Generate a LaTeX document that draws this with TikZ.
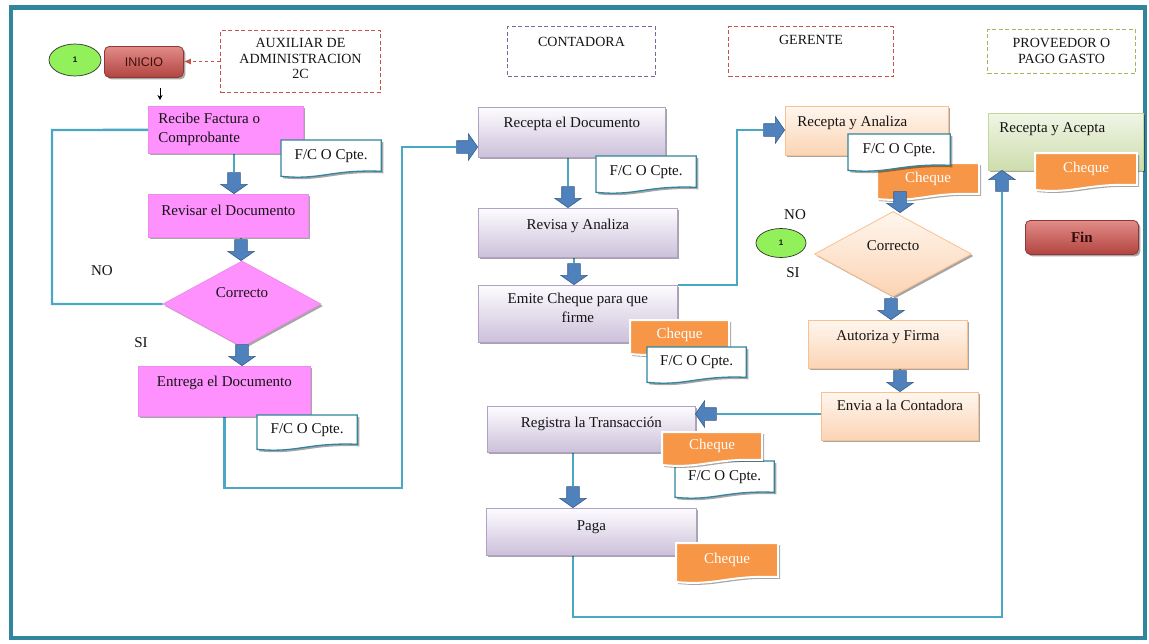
\documentclass[tikz,border=0pt]{standalone}
\usepackage{fontspec}
\setmainfont{Liberation Serif}
\newfontfamily\arialf{Liberation Sans}
\usetikzlibrary{shapes.geometric,shapes.arrows,shadows,arrows.meta,calc}

% document shape: rectangle with a wavy bottom edge
\makeatletter
\newdimen\wvL \newdimen\wvR \newdimen\wvB \newdimen\wvT
\pgfdeclareshape{wavedoc}{%
  \inheritsavedanchors[from=rectangle]%
  \inheritanchorborder[from=rectangle]%
  \inheritanchor[from=rectangle]{center}%
  \inheritanchor[from=rectangle]{north}%
  \inheritanchor[from=rectangle]{south}%
  \inheritanchor[from=rectangle]{east}%
  \inheritanchor[from=rectangle]{west}%
  \inheritanchor[from=rectangle]{north east}%
  \inheritanchor[from=rectangle]{north west}%
  \inheritanchor[from=rectangle]{south east}%
  \inheritanchor[from=rectangle]{south west}%
  \inheritanchor[from=rectangle]{text}%
  \inheritanchor[from=rectangle]{base}%
  \inheritanchor[from=rectangle]{mid}%
  \backgroundpath{%
    \southwest \wvL=\pgf@x \wvB=\pgf@y
    \northeast \wvR=\pgf@x \wvT=\pgf@y
    \pgfpathmoveto{\pgfqpoint{\wvL}{\wvT}}%
    \pgfpathlineto{\pgfqpoint{\wvR}{\wvT}}%
    \pgfpathlineto{\pgfqpoint{\wvR}{\wvB}}%
    \pgfpathcurveto{\pgfpoint{0.5*\wvR+0.5*\wvL}{\wvB+2pt}}{\pgfpoint{0.4*\wvR+0.6*\wvL}{\wvB-9pt}}{\pgfpoint{\wvL}{\wvB-5pt}}%
    \pgfpathclose
  }%
}
\makeatother

\pgfdeclarelayer{bg}
\pgfsetlayers{bg,main}

\definecolor{frameC}{RGB}{49,133,156}
\definecolor{lineC}{RGB}{75,168,196}
\definecolor{blkF}{RGB}{79,129,189}
\definecolor{blkD}{RGB}{56,93,138}
\definecolor{pinkF}{RGB}{255,145,255}
\definecolor{pinkD}{RGB}{235,140,235}
\definecolor{lavT}{RGB}{253,252,255}
\definecolor{lavB}{RGB}{204,192,218}
\definecolor{lavD}{RGB}{178,161,199}
\definecolor{peaT}{RGB}{255,246,238}
\definecolor{peaB}{RGB}{251,212,180}
\definecolor{peaD}{RGB}{250,192,144}
\definecolor{grnT}{RGB}{240,245,230}
\definecolor{grnB}{RGB}{205,221,172}
\definecolor{grnD}{RGB}{195,214,155}
\definecolor{orgF}{RGB}{247,150,70}
\definecolor{docD}{RGB}{49,133,156}
\definecolor{redT}{RGB}{226,140,136}
\definecolor{redB}{RGB}{178,68,64}
\definecolor{redD}{RGB}{140,56,54}
\definecolor{limeF}{RGB}{146,240,90}
\definecolor{hdRed}{RGB}{200,80,77}
\definecolor{hdPur}{RGB}{128,100,162}
\definecolor{hdGrn}{RGB}{155,187,89}
\definecolor{txtC}{RGB}{20,20,20}

% text block of given width/height, top padding, content
\newcommand\tb[4]{\parbox[c][#2pt][t]{#1pt}{\vspace*{#3pt}#4}}

\tikzset{
  every node/.style={font=\fontsize{15}{19}\selectfont, text=txtC},
  boxshadow/.style={drop shadow={shadow xshift=2pt,shadow yshift=-2pt,opacity=.35,fill=black}},
  box/.style={rectangle, inner sep=0pt, anchor=north west, line width=.8pt, boxshadow},
  pinkbox/.style={box, fill=pinkF, draw=pinkD},
  lavbox/.style={box, top color=lavT, bottom color=lavB, draw=lavD},
  peabox/.style={box, top color=peaT, bottom color=peaB, draw=peaD},
  grnbox/.style={box, top color=grnT, bottom color=grnB, draw=grnD},
  hdr/.style={rectangle, dashed, dash pattern=on 4pt off 2.5pt, line width=1pt, anchor=north west, inner sep=0pt, font=\fontsize{14}{15.5}\selectfont},
  docnode/.style={wavedoc, anchor=north west, fill=white, draw=docD, line width=1.3pt, inner sep=0pt, boxshadow, font=\fontsize{15}{17}\selectfont},
  chq/.style={wavedoc, anchor=north west, fill=orgF, draw=white, line width=2pt, inner sep=0pt, text=white, boxshadow, font=\fontsize{15}{17}\selectfont},
  conn/.style={draw=lineC, line width=2.4pt},
  blk/.style={single arrow, fill=blkF, draw=blkD, line width=.6pt, inner sep=6pt, minimum height=21pt, minimum width=26pt, single arrow head extend=7pt, single arrow tip angle=110, anchor=tip},
  blkdown/.style={blk, shape border rotate=270},
  blkup/.style={blk, shape border rotate=90},
  blkright/.style={blk, shape border rotate=0},
  blkleft/.style={blk, shape border rotate=180},
  decision/.style={diamond, inner sep=0pt, line width=.8pt, boxshadow},
  startoval/.style={ellipse, draw=black!80, fill=limeF, inner sep=0pt, line width=.7pt, font=\arialf\bfseries\fontsize{8}{9}\selectfont},
  terminal/.style={rectangle, rounded corners=5pt, anchor=north west, inner sep=0pt, top color=redT, bottom color=redB, draw=redD, line width=.8pt, boxshadow},
  lbl/.style={font=\fontsize{15}{17}\selectfont}
}

\begin{document}
\begin{tikzpicture}[x=1pt,y=-1pt]
\useasboundingbox (0,0) rectangle (1149,643);

% lane headers
\node[hdr, draw=hdRed] (auxh) at (220,30) {\tb{160}{62}{8}{\centering AUXILIAR DE\\ADMINISTRACION\\2C}};
\node[hdr, draw=hdPur] (conth) at (507,26) {\tb{148}{50}{11}{\centering CONTADORA}};
\node[hdr, draw=hdRed] (gerh) at (728,26) {\tb{165}{50}{9}{\centering GERENTE}};
\node[hdr, draw=hdGrn] (provh) at (987,29) {\tb{148}{44}{9}{\centering PROVEEDOR O\\PAGO GASTO}};

% start
\node[startoval, minimum width=52pt, minimum height=32pt] (one1) at (75,60) {1};
\node[terminal, minimum width=79pt, minimum height=31pt, font=\arialf\fontsize{12.5}{14}\selectfont, text={rgb,255:red,60;green,15;blue,15}] (inicio) at (104,46) {INICIO};

% auxiliar lane
\node[pinkbox] (recibe) at (148,106) {\tb{155}{47}{7}{\raggedright\hspace*{10pt}Recibe Factura o\\\hspace*{10pt}Comprobante}};
\node[docnode, minimum width=99pt, minimum height=30pt] (doc1) at (281,140) {F/C O Cpte.};
\node[pinkbox] (revisar) at (148,194) {\tb{160}{43}{11}{\centering Revisar el Documento}};
\node[decision, fill=pinkF, draw=pinkD, minimum width=158pt, minimum height=86pt] (c1) at (242,304) {\raisebox{7pt}[0pt][0pt]{Correcto}};
\node[lbl] (no1) at (102,271) {NO};
\node[lbl] (si1) at (141,343) {SI};
\node[pinkbox] (entrega) at (138,366) {\tb{172}{50}{10}{\centering Entrega el Documento}};
\node[docnode, minimum width=99pt, minimum height=28pt] (doc2) at (257,415) {F/C O Cpte.};

% contadora lane
\node[lavbox] (recepta) at (478,107) {\tb{187}{50}{10}{\centering Recepta el Documento}};
\node[docnode, minimum width=99pt, minimum height=30pt] (doc3) at (596,156) {F/C O Cpte.};
\node[lavbox] (revisa) at (478,208) {\tb{199}{49}{11}{\centering Revisa y Analiza}};
\node[lavbox] (emite) at (478,285) {\tb{199}{57}{8}{\centering Emite Cheque para que\\firme}};
\node[chq, minimum width=97pt, minimum height=27pt] (chq1) at (630,320) {Cheque};
\node[docnode, minimum width=98pt, minimum height=29pt] (doc4) at (647,347) {F/C O Cpte.};
\node[lavbox] (registra) at (487,406) {\tb{208}{46}{11}{\centering Registra la Transacción}};
\node[docnode, minimum width=98pt, minimum height=30pt] (doc6) at (675,461) {F/C O Cpte.};
\node[chq, minimum width=98pt, minimum height=26pt] (chq3) at (662,432) {Cheque};
\node[lavbox] (paga) at (486,508) {\tb{210}{47}{12}{\centering Paga}};
\node[chq, minimum width=100pt, minimum height=32pt] (chq4) at (676,543) {Cheque};

% gerente lane
\node[peabox] (rya) at (785,106) {\tb{163}{49}{10}{\raggedright\hspace*{12pt}Recepta y Analiza}};
\node[chq, minimum width=100pt, minimum height=29pt] (chq2) at (877,163) {Cheque};
\node[docnode, minimum width=101pt, minimum height=30pt] (doc5) at (848,134) {F/C O Cpte.};
\node[decision, top color=peaT, bottom color=peaB, draw=peaD, minimum width=157pt, minimum height=85pt] (d2) at (893,254) {\raisebox{4pt}[0pt][0pt]{Correcto}};
\node[lbl] (no2) at (795,215) {NO};
\node[startoval, minimum width=50pt, minimum height=29pt] (one2) at (781,243) {1};
\node[lbl] (si2) at (793,273) {SI};
\node[peabox] (autoriza) at (808,320) {\tb{159}{48}{10}{\centering Autoriza y Firma}};
\node[peabox] (envia) at (821,392) {\tb{157}{48}{8}{\centering Envia a la Contadora}};

% proveedor lane
\node[grnbox] (ryac) at (988,113) {\tb{155}{57}{9}{\raggedright\hspace*{11pt}Recepta y Acepta}};
\node[chq, minimum width=100pt, minimum height=30pt] (chq5) at (1035,153) {Cheque};
\node[terminal, minimum width=113pt, minimum height=34pt, font=\bfseries\fontsize{15}{17}\selectfont, text={rgb,255:red,50;green,10;blue,10}] (fin) at (1025,220) {Fin};

% block arrows
\node[blkdown] (a1) at (234,194) {};
\node[blkdown] (a2) at (241,261) {};
\node[blkdown] (a3) at (242,366) {};
\node[blkright] (a4) at (478,147) {};
\node[blkdown] (a5) at (568,208) {};
\node[blkdown] (a6) at (574,285) {};
\node[blkright] (a7) at (785,130) {};
\node[blkdown] (a8) at (900,213) {};
\node[blkdown] (a9) at (891,320) {};
\node[blkdown] (a10) at (900,392) {};
\node[blkleft] (a11) at (695,414) {};
\node[blkdown] (a12) at (573,508) {};
\node[blkup] (a13) at (1002,170) {};

% bends of the long connectors
\coordinate (k1) at (52,130);
\coordinate (j1) at (402,488);
\coordinate (j2) at (737,130);
\coordinate (j3) at (1002,617);
\coordinate (s1) at (160,88);

% start arrows
\draw[hdRed, dashed, line width=.9pt, -{Latex[length=7pt,width=6pt]}] (auxh.west) -- (auxh.west -| inicio.east);
\draw[black, line width=.8pt, -{Stealth[length=5pt,width=5pt]}, shorten >=6pt] (s1) -- (s1 |- recibe.north);

\begin{pgfonlayer}{bg}
\fill[white] (0,0) rectangle (1149,643);
\draw[frameC, line width=4.5pt] (11,7.5) rectangle (1145,638);
\draw[conn] (c1.west) -| (k1) -- (recibe.west);
\draw[conn] (a1.tail |- recibe.south) -- (a1.tail);
\draw[conn] (a2.tail |- revisar.south) -- (a2.tail);
\draw[conn] (a3.tail |- c1.south) -- (a3.tail);
\draw[conn] (entrega.south) |- (j1) |- (a4.tail);
\draw[conn] (a5.tail |- recepta.south) -- (a5.tail);
\draw[conn] (a6.tail |- revisa.south) -- (a6.tail);
\draw[conn] (emite.north east) -| (j2) -- (a7.tail);
\draw[conn] (a8.tail |- rya.south) -- (a8.tail);
\draw[conn] (a9.tail |- d2.south) -- (a9.tail);
\draw[conn] (a10.tail |- autoriza.south) -- (a10.tail);
\draw[conn] (a11.tail -| envia.west) -- (a11.tail);
\draw[conn] (a12.tail |- registra.south) -- (a12.tail);
\draw[conn] (a12.tail |- paga.south) |- (j3) -- (a13.tail);
\end{pgfonlayer}
\end{tikzpicture}
\end{document}
